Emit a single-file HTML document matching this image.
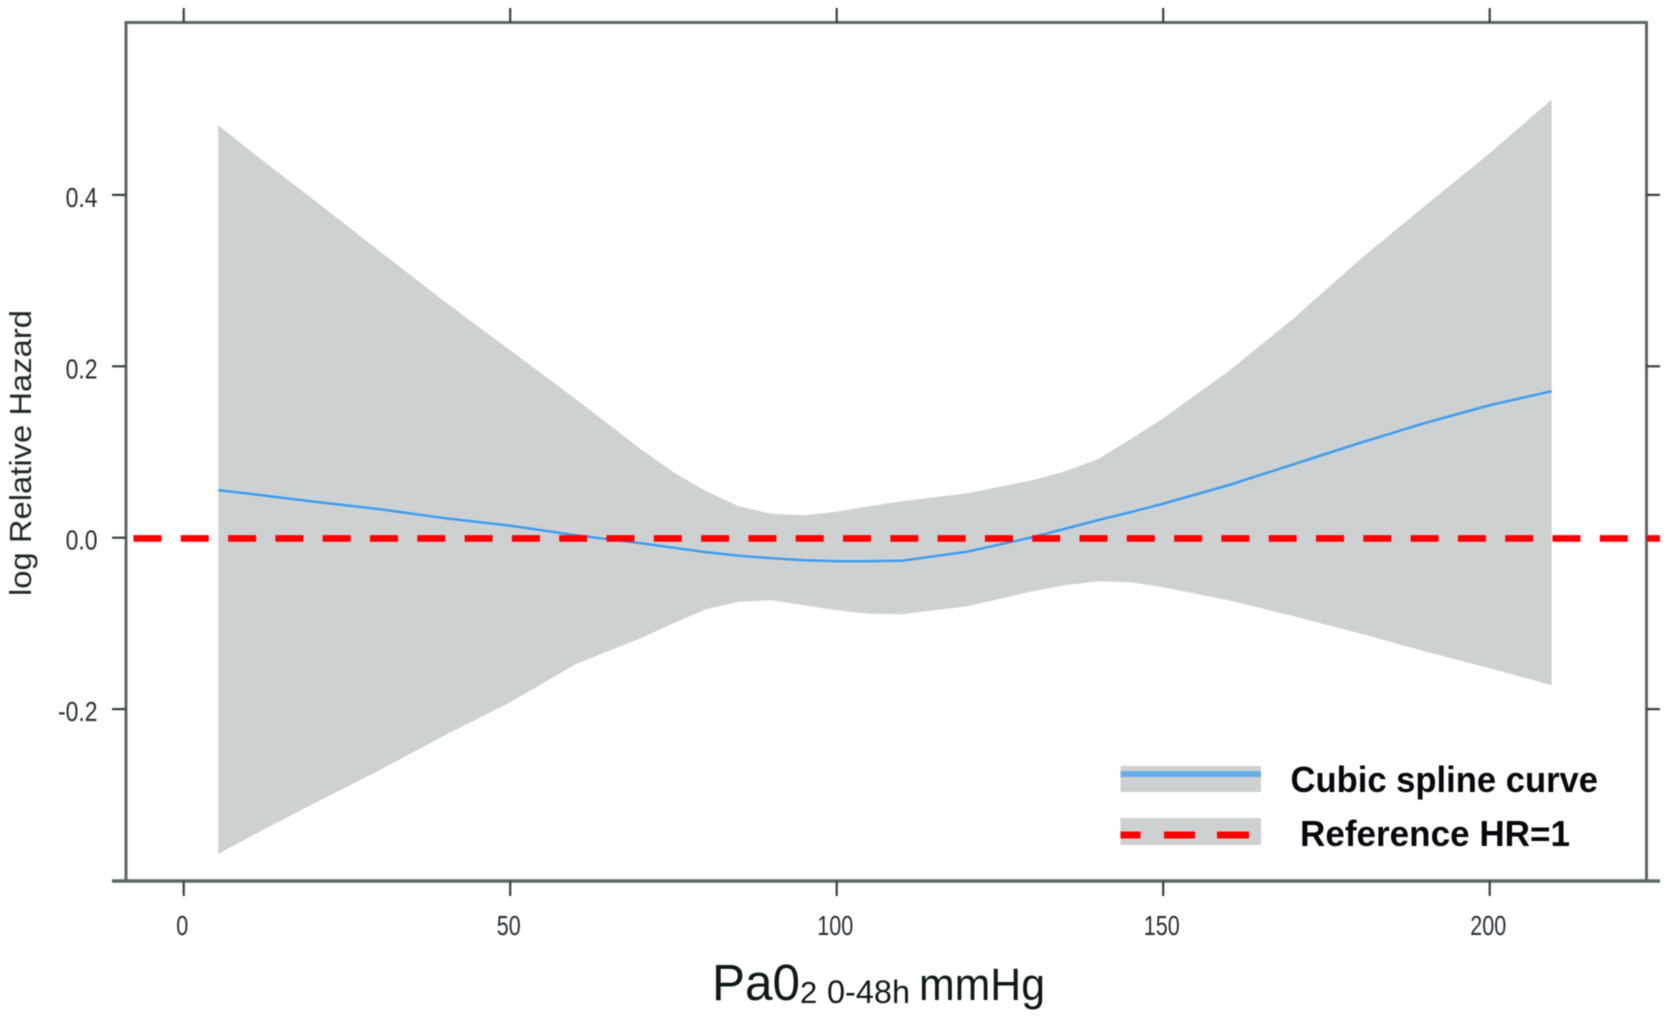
<!DOCTYPE html>
<html lang="en">
<head>
<meta charset="utf-8">
<title>Log relative hazard by PaO2 0-48h</title>
<style>
  html, body { margin: 0; padding: 0; background: #ffffff; }
  body { width: 1667px; height: 1016px; overflow: hidden; }
  svg { display: block; filter: blur(0.45px); }
  text { font-family: "Liberation Sans", sans-serif; }
</style>
</head>
<body>
<svg id="chart" xmlns="http://www.w3.org/2000/svg" width="1667" height="1016" viewBox="0 0 1667 1016">
  <rect x="0" y="0" width="1667" height="1016" fill="#ffffff"/>
  <g id="marks"></g>
  <g id="axes"></g>

  <text transform="translate(31,596) rotate(-90)" font-size="31" fill="#20282a" textLength="286" lengthAdjust="spacingAndGlyphs">log Relative Hazard</text>

  <g fill="#10191a">
    <text x="712" y="1000" font-size="51" textLength="88" lengthAdjust="spacingAndGlyphs">Pa0</text>
    <text x="800" y="1003" font-size="31">2</text>
    <text x="827" y="1003" font-size="32" textLength="83" lengthAdjust="spacingAndGlyphs">0-48h</text>
    <text x="919" y="1000" font-size="45" textLength="126" lengthAdjust="spacingAndGlyphs">mmHg</text>
  </g>

  <g>
    <g>
      <rect x="1120.5" y="766" width="140.5" height="26" fill="#cdd1d1"/>
      <rect x="1120.5" y="771" width="140.5" height="6" fill="#66aee9"/>
      <text x="1290.5" y="792" font-size="36" font-weight="700" fill="#05080c" textLength="307.5" lengthAdjust="spacingAndGlyphs">Cubic spline curve</text>
    </g>
    <g>
      <rect x="1120.5" y="818" width="140.5" height="27" fill="#cdd1d1"/>
      <rect x="1120.5" y="831.5" width="20" height="7" fill="#fe0000"/>
      <rect x="1164" y="831.5" width="31" height="7" fill="#fe0000"/>
      <rect x="1217" y="831.5" width="32" height="7" fill="#fe0000"/>
      <text x="1300" y="846" font-size="36" font-weight="700" fill="#05080c" textLength="270" lengthAdjust="spacingAndGlyphs">Reference HR=1</text>
    </g>
  </g>
</svg>

<script>
const pao2Values = [5.3, 10, 20, 30, 40, 50, 60, 70, 75, 80, 85, 90, 95, 100, 105, 110, 120, 130, 135, 140, 145, 150, 160, 170, 180, 190, 200, 209.5];
const upperBound = [0.4813, 0.4525, 0.3938, 0.3343, 0.2753, 0.2188, 0.1620, 0.1033, 0.0764, 0.0543, 0.0368, 0.0280, 0.0263, 0.0303, 0.0368, 0.0426, 0.0519, 0.0671, 0.0776, 0.0916, 0.1149, 0.1394, 0.1943, 0.2561, 0.3238, 0.3868, 0.4487, 0.5113];
const lowerBound = [-0.3690, -0.3495, -0.3098, -0.2713, -0.2305, -0.1920, -0.1476, -0.1173, -0.0998, -0.0834, -0.0747, -0.0729, -0.0788, -0.0846, -0.0887, -0.0893, -0.0799, -0.0624, -0.0554, -0.0508, -0.0519, -0.0578, -0.0729, -0.0916, -0.1114, -0.1324, -0.1523, -0.1721];
const splineFit = [0.0554, 0.0513, 0.0420, 0.0333, 0.0228, 0.0140, 0.0029, -0.0064, -0.0117, -0.0169, -0.0210, -0.0239, -0.0263, -0.0274, -0.0274, -0.0268, -0.0163, 0.0006, 0.0105, 0.0204, 0.0298, 0.0397, 0.0613, 0.0858, 0.1103, 0.1336, 0.1546, 0.1709];
const referenceValue = [0];
const xTickValues = [0, 50, 100, 150, 200];
const xTickLabels = ["0", "50", "100", "150", "200"];
const yTickValues = [-0.2, 0, 0.2, 0.4];
const yTickLabels = ["-0.2", "0.0", "0.2", "0.4"];

const NS = "http://www.w3.org/2000/svg";
const frame = { left: 126, right: 1646.5, top: 22.5, bottom: 881 };
function xScale(v) { return 183.7 + 6.53 * v; }
function yScale(v) { return 537.7 - 857 * v; }

const marks = document.getElementById("marks");
const axes = document.getElementById("axes");

function make(tag, attrs, parent) {
  const el = document.createElementNS(NS, tag);
  Object.keys(attrs).forEach(function (k) { el.setAttribute(k, attrs[k]); });
  parent.appendChild(el);
  return el;
}

/* confidence band */
const upperPts = pao2Values.map(function (v, i) { return xScale(v).toFixed(1) + "," + yScale(upperBound[i]).toFixed(1); });
const lowerPts = pao2Values.map(function (v, i) { return xScale(v).toFixed(1) + "," + yScale(lowerBound[i]).toFixed(1); }).reverse();
const band = make("polygon", { points: upperPts.concat(lowerPts).join(" "), fill: "#cdd1d1" }, marks);



/* spline */
const splinePts = pao2Values.map(function (v, i) { return xScale(v).toFixed(1) + "," + yScale(splineFit[i]).toFixed(1); });
const spline = make("polyline", { points: splinePts.join(" "), fill: "none", stroke: "#3a9bf0", "stroke-width": 2.4, "stroke-linejoin": "round" }, marks);



/* frame */
const frameRect = make("path", {
  d: "M" + frame.left + " " + frame.bottom + " V" + frame.top + " H" + frame.right + " V" + frame.bottom,
  fill: "none", stroke: "#5b6867", "stroke-width": 3
}, axes);



const baseLine = make("line", { x1: 112, x2: 1660, y1: frame.bottom, y2: frame.bottom, stroke: "#5b6867", "stroke-width": 3.4 }, axes);



/* x ticks */
xTickValues.forEach(function (v, i) {
  const x = xScale(v);
  const top = make("line", { x1: x, x2: x, y1: 8, y2: frame.top, stroke: "#37403f", "stroke-width": 2.2 }, axes);
  
  
  const bottom = make("line", { x1: x, x2: x, y1: frame.bottom, y2: 896, stroke: "#37403f", "stroke-width": 2.2 }, axes);
  
  
  const label = make("text", {
    transform: "translate(" + (x - 1.5) + ",935) scale(0.77,1)",
    "text-anchor": "middle", "font-size": 28, fill: "#262f35"
  }, axes);
  label.textContent = xTickLabels[i];
  
  
});

/* y ticks */
yTickValues.forEach(function (v, i) {
  const y = yScale(v);
  const left = make("line", { x1: 112, x2: frame.left, y1: y, y2: y, stroke: "#37403f", "stroke-width": 2.2 }, axes);
  
  
  const right = make("line", { x1: frame.right, x2: 1660, y1: y, y2: y, stroke: "#37403f", "stroke-width": 2.2 }, axes);
  
  
  const label = make("text", {
    transform: "translate(97.5," + (y + 12) + ") scale(0.82,1)",
    "text-anchor": "end", "font-size": 28, fill: "#262f35"
  }, axes);
  label.textContent = yTickLabels[i];
  
  
});

/* reference line */
const refY = yScale(referenceValue[0]) + 0.7;
const refLine = make("line", { x1: 133.5, x2: 1660, y1: refY, y2: refY, stroke: "#fe0000", "stroke-width": 6.6, "stroke-dasharray": "28 19.3" }, axes);


</script>
</body>
</html>
